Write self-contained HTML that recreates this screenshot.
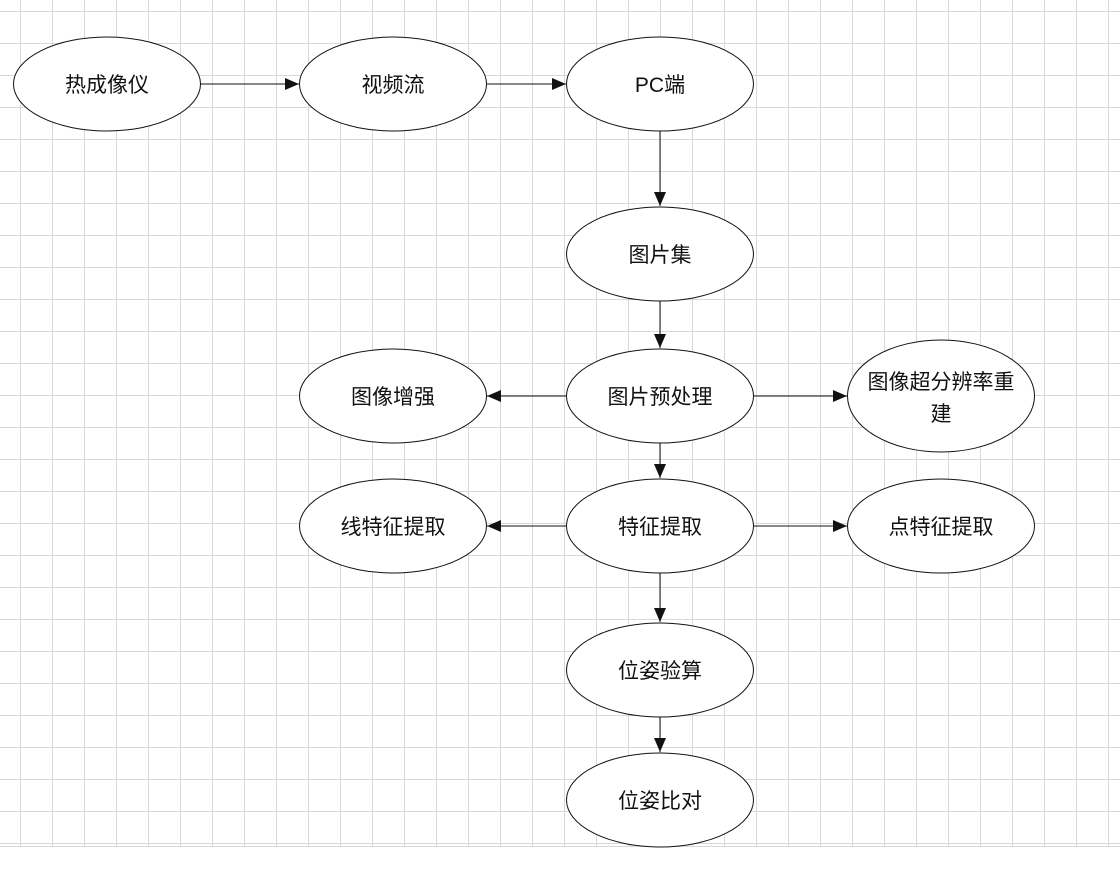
<!DOCTYPE html>
<html><head><meta charset="utf-8"><style>
body{margin:0;background:#fff}
svg text{font-family:"Liberation Sans","Noto Sans CJK SC",sans-serif;font-size:21px;fill:#111}
</style></head><body>
<svg width="1120" height="886" xmlns="http://www.w3.org/2000/svg">
<defs>
<pattern id="g" width="32" height="32" patternUnits="userSpaceOnUse" x="20" y="11">
<path d="M0 0.5H32M0.5 0V32" stroke="#d8d8d8" stroke-width="1" fill="none"/>
</pattern>
<marker id="a" markerWidth="14" markerHeight="12" refX="14" refY="6" orient="auto" markerUnits="userSpaceOnUse">
<path d="M0 0L14 6L0 12Z" fill="#111"/>
</marker>
</defs>
<rect x="0" y="0" width="1120" height="846" fill="url(#g)"/>
<line x1="0" y1="846.5" x2="1120" y2="846.5" stroke="#d8d8d8"/>
<g stroke="#111" stroke-width="1" fill="none" marker-end="url(#a)">
<line x1="200" y1="84" x2="299" y2="84"/>
<line x1="487" y1="84" x2="566" y2="84"/>
<line x1="660" y1="131" x2="660" y2="206"/>
<line x1="660" y1="301" x2="660" y2="348"/>
<line x1="566" y1="396" x2="487" y2="396"/>
<line x1="754" y1="396" x2="847" y2="396"/>
<line x1="660" y1="443" x2="660" y2="478"/>
<line x1="566" y1="526" x2="487" y2="526"/>
<line x1="754" y1="526" x2="847" y2="526"/>
<line x1="660" y1="573" x2="660" y2="622"/>
<line x1="660" y1="717" x2="660" y2="752"/>
</g>
<g fill="#fff" stroke="#111" stroke-width="1">
<ellipse cx="107" cy="84" rx="93.5" ry="47"/>
<ellipse cx="393" cy="84" rx="93.5" ry="47"/>
<ellipse cx="660" cy="84" rx="93.5" ry="47"/>
<ellipse cx="660" cy="254" rx="93.5" ry="47"/>
<ellipse cx="660" cy="396" rx="93.5" ry="47"/>
<ellipse cx="393" cy="396" rx="93.5" ry="47"/>
<ellipse cx="941" cy="396" rx="93.5" ry="56"/>
<ellipse cx="660" cy="526" rx="93.5" ry="47"/>
<ellipse cx="393" cy="526" rx="93.5" ry="47"/>
<ellipse cx="941" cy="526" rx="93.5" ry="47"/>
<ellipse cx="660" cy="670" rx="93.5" ry="47"/>
<ellipse cx="660" cy="800" rx="93.5" ry="47"/>
</g>
<g text-anchor="middle">
<text x="107" y="92">热成像仪</text>
<text x="393" y="92">视频流</text>
<text x="660" y="92">PC端</text>
<text x="660" y="262">图片集</text>
<text x="660" y="404">图片预处理</text>
<text x="393" y="404">图像增强</text>
<text x="941" y="389">图像超分辨率重</text>
<text x="941" y="421">建</text>
<text x="660" y="534">特征提取</text>
<text x="393" y="534">线特征提取</text>
<text x="941" y="534">点特征提取</text>
<text x="660" y="678">位姿验算</text>
<text x="660" y="808">位姿比对</text>
</g>
</svg>
</body></html>
